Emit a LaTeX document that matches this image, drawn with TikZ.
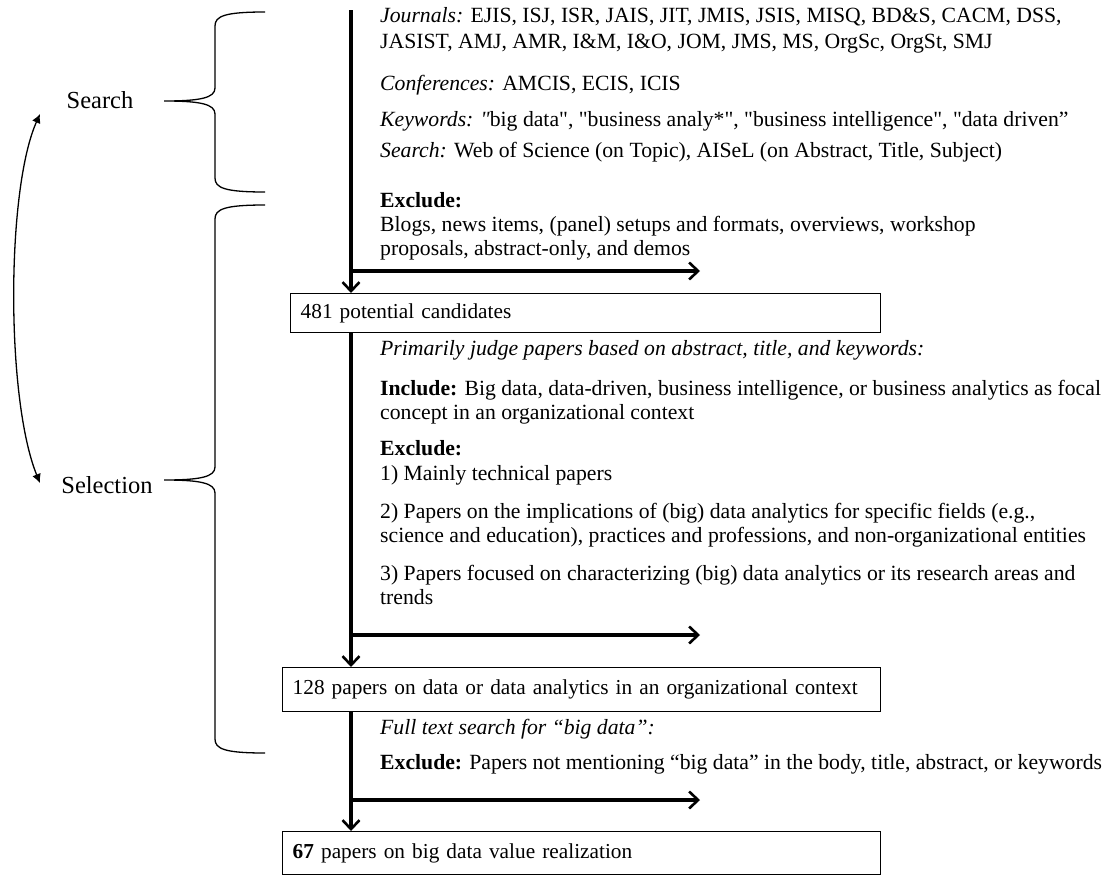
\documentclass[tikz,border=0pt]{standalone}
\usepackage{fontspec}
\setmainfont{Liberation Serif}
\usetikzlibrary{arrows.meta}

\tikzset{
  flow/.style={line width=3.2pt, -{Straight Barb[length=9pt,width=17pt,line width=2.6pt]}},
  stage/.style={draw, line width=1.4pt, anchor=north west, inner xsep=10pt, inner ysep=0pt, align=left, font=\fontsize{21.3}{24}\selectfont},
  note/.style={anchor=base west, inner sep=0pt, align=left},
  phase/.style={font=\fontsize{24.5}{26}\selectfont},
  bracket/.style={line width=1.3pt},
}

\begin{document}
\begin{tikzpicture}[x=1pt, y=-1pt, font=\fontsize{21.7}{24}\selectfont]
    \useasboundingbox (0,0) rectangle (1108,878);

    % Stage boxes
    \node[stage, text width=570pt, minimum height=39pt] (cand) at (290,293) {\mbox{481 potential candidates}};
    \node[stage, text width=578pt, minimum height=44pt] (rel) at (282,667) {\mbox{128 papers on data or data analytics in an organizational context}};
    \node[stage, text width=578pt, minimum height=43pt] (final) at (282,831) {\mbox{\textbf{67} papers on big data value realization}};

    % Search criteria (multi-line notes sit on the baseline of their last line)
    \node[note, font=\fontsize{21.7}{26}\selectfont] (jour) at (380,48) {\textit{Journals:} EJIS, ISJ, ISR, JAIS, JIT, JMIS, JSIS, MISQ, BD\&S, CACM, DSS,\\JASIST, AMJ, AMR, I\&M, I\&O, JOM, JMS, MS, OrgSc, OrgSt, SMJ};
    \node[note] (conf) at (380,90) {\textit{Conferences:} AMCIS, ECIS, ICIS};
    \node[note] (keyw) at (380,126) {\textit{Keywords: \textquotedbl}big data\textquotedbl, \textquotedbl business analy*\textquotedbl, \textquotedbl business intelligence\textquotedbl, \textquotedbl data driven”};
    \node[note] (where) at (380,157) {\textit{Search:} Web of Science (on Topic), AISeL (on Abstract, Title, Subject)};
    \node[note] (excl1) at (380,255) {\textbf{Exclude:}\\Blogs, news items, (panel) setups and formats, overviews, workshop\\proposals, abstract-only, and demos};

    % Selection criteria
    \node[note] (judge) at (380,355) {\textit{Primarily judge papers based on abstract, title, and keywords:}};
    \node[note] (incl) at (380,419) {\textbf{Include:} Big data, data-driven, business intelligence, or business analytics as focal\\concept in an organizational context};
    \node[note] (excl2) at (380,455) {\textbf{Exclude:}};
    \node[note] (crit1) at (380,480) {1) Mainly technical papers};
    \node[note] (crit2) at (380,542) {2) Papers on the implications of (big) data analytics for specific fields (e.g.,\\science and education), practices and professions, and non-organizational entities};
    \node[note] (crit3) at (380,604) {3) Papers focused on characterizing (big) data analytics or its research areas and\\trends};

    % Full text check
    \node[note] (fulltext) at (380,734) {\textit{Full text search for “big data”:}};
    \node[note] (excl3) at (380,769) {\textbf{Exclude:} Papers not mentioning “big data” in the body, title, abstract, or keywords};

    % Main flow
    \coordinate (start) at (351,10);
    \coordinate (out1) at (700,271);
    \coordinate (out2) at (700,635);
    \coordinate (out3) at (700,800);
    \draw[flow] (start) -- (start |- cand.north);
    \draw[flow] (start |- cand.south) -- (start |- rel.north);
    \draw[flow] (start |- rel.south) -- (start |- final.north);
    \foreach \o in {out1, out2, out3}
      \draw[flow] (start |- \o) -- (\o);

    % Phase labels and braces
    \node[phase] (lblsearch) at (100,100) {Search};
    \node[phase] (lblselect) at (107,485) {Selection};
    \draw[bracket] (265,12) .. controls (225,12) and (215,16) .. (215,26) -- (215,88)
      .. controls (215,98) and (200,101) .. (164,101)
      .. controls (200,101) and (215,104) .. (215,114) -- (215,178)
      .. controls (215,188) and (225,192) .. (265,192);
    \draw[bracket] (265,205) .. controls (225,205) and (215,209) .. (215,219) -- (215,467)
      .. controls (215,477) and (200,480) .. (164,480)
      .. controls (200,480) and (215,483) .. (215,493) -- (215,739)
      .. controls (215,749) and (225,753) .. (265,753);

    % Loop between phases
    \coordinate (looptop) at (40,114);
    \coordinate (loopbot) at (40,483);
    \draw[bracket, {Latex[length=9pt,width=9pt]}-{Latex[length=9pt,width=9pt]}] (looptop) .. controls (6,190) and (6,400) .. (loopbot);
\end{tikzpicture}
\end{document}
